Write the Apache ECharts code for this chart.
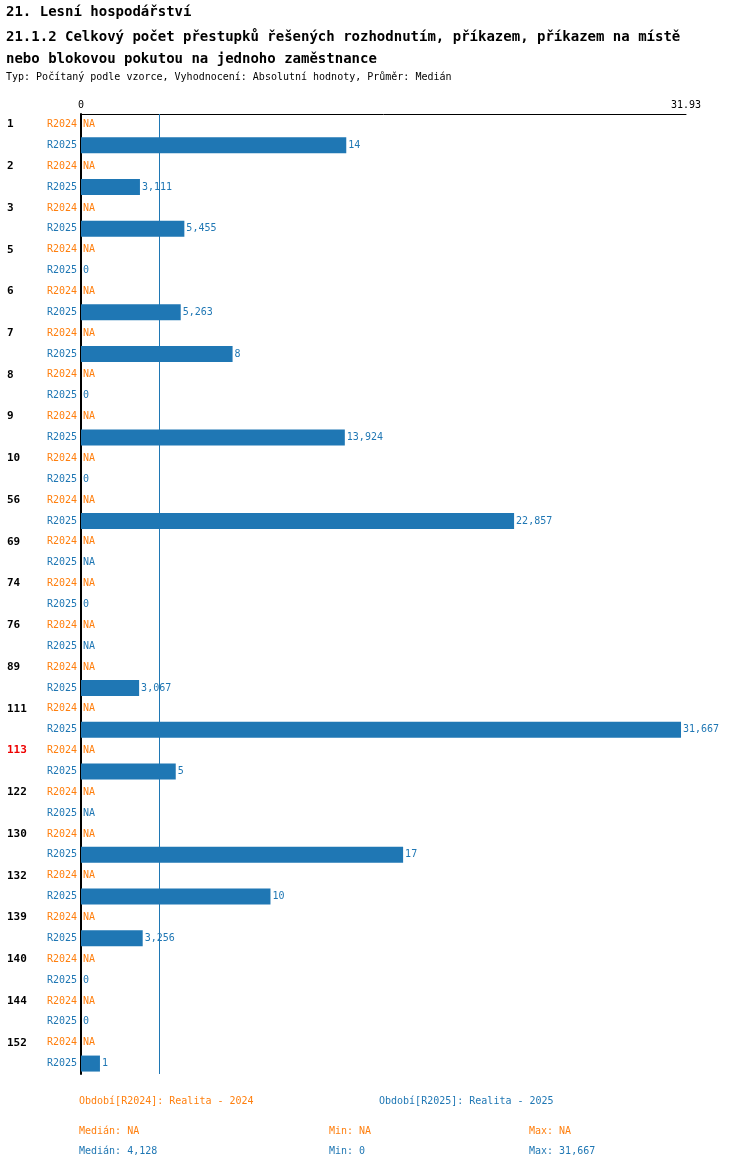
<!DOCTYPE html>
<html><head><meta charset="utf-8">
<script src="https://cdn.jsdelivr.net/npm/echarts@6/dist/echarts.min.js"></script>
<style>body{margin:0;background:#fff}#chart-container{width:750px;height:1170px}</style>
</head><body><div id="chart-container"></div>
<script>
var groups = ['1','2','3','5','6','7','8','9','10','56','69','74','76','89','111','113','122','130','132','139','140','144','152'];
var r2024 = groups.map(function () { return null; });
var r2025 = [14, 3.111, 5.455, 0, 5.263, 8, 0, 13.924, 0, 22.857, null, 0, null, 3.067, 31.667, 5, null, 17, 10, 3.256, 0, 0, 1];
var highlight = '113';
var median2025 = 4.128, min2025 = 0, max2025 = 31.667;

var ORANGE = '#ff7f0e', BLUE = '#1f77b4';
var FONT = 'DejaVu Sans Mono';

function fmt(v) {
  if (v === null) return 'NA';
  if (Number.isInteger(v)) return String(v);
  return v.toFixed(3).replace('.', ',');
}

var cats = [], data = [];
groups.forEach(function (g, i) {
  cats.push(g + '|R2024');
  cats.push('|R2025');
  data.push({ value: r2024[i] === null ? 0 : r2024[i], raw: r2024[i], label: { color: ORANGE } });
  data.push({ value: r2025[i] === null ? 0 : r2025[i], raw: r2025[i], label: { color: BLUE } });
});

var dom = document.getElementById('chart-container');
var myChart = echarts.init(dom, null, { renderer: 'canvas' });

var option = {
  animation: false,
  textStyle: { fontFamily: FONT },
  title: [
    { text: '21. Lesní hospodářství', left: 1, top: 0, textStyle: { fontFamily: FONT, fontSize: 14, fontWeight: 'bold', color: '#000' } },
    { text: '21.1.2 Celkový počet přestupků řešených rozhodnutím, příkazem, příkazem na místě\nnebo blokovou pokutou na jednoho zaměstnance', left: 1, top: 21,
      textStyle: { fontFamily: FONT, fontSize: 14, fontWeight: 'bold', color: '#000', lineHeight: 22 } },
    { text: 'Typ: Počítaný podle vzorce, Vyhodnocení: Absolutní hodnoty, Průměr: Medián', left: 1, top: 67,
      textStyle: { fontFamily: FONT, fontSize: 10, fontWeight: 'normal', color: '#000' } }
  ],
  grid: { left: 81, top: 114, width: 605, height: 960 },
  xAxis: {
    type: 'value', position: 'top', min: 0, max: 31.93, interval: 40,
    axisLine: { show: true, lineStyle: { color: '#000' } },
    axisTick: { show: false }, splitLine: { show: false },
    axisLabel: { fontFamily: FONT, fontSize: 10, color: '#000', margin: 4 }
  },
  yAxis: {
    type: 'category', inverse: true, data: cats,
    axisLine: { show: true, lineStyle: { color: '#000', width: 2 } },
    axisTick: { show: false },
    axisLabel: {
      align: 'left', margin: 74, interval: 0,
      formatter: function (v) {
        var p = v.split('|');
        var gs = p[0] === highlight ? 'h' : 'g';
        var rs = p[1] === 'R2024' ? 'o' : 'b';
        return '{' + gs + '|' + p[0] + '}{' + rs + '|' + p[1] + '}';
      },
      rich: {
        g: { width: 40, fontFamily: FONT, fontSize: 11, fontWeight: 'bold', color: '#000' },
        h: { width: 40, fontFamily: FONT, fontSize: 11, fontWeight: 'bold', color: '#e00' },
        o: { fontFamily: FONT, fontSize: 10, color: ORANGE },
        b: { fontFamily: FONT, fontSize: 10, color: BLUE }
      }
    }
  },
  series: [{
    type: 'bar', data: data, barWidth: 16, itemStyle: { color: BLUE },
    label: {
      show: true, position: 'right', distance: 2, fontFamily: FONT, fontSize: 10,
      formatter: function (p) { return fmt(p.data.raw); }
    },
    markLine: {
      silent: true, symbol: 'none', label: { show: false },
      lineStyle: { color: BLUE, width: 1, type: 'solid' },
      data: [{ xAxis: median2025 }]
    }
  }],
  graphic: [
    { type: 'text', left: 79, top: 1096, style: { text: 'Období[R2024]: Realita - 2024', fill: ORANGE, font: '10px ' + FONT } },
    { type: 'text', left: 379, top: 1096, style: { text: 'Období[R2025]: Realita - 2025', fill: BLUE, font: '10px ' + FONT } },
    { type: 'text', left: 79, top: 1126, style: { text: 'Medián: NA', fill: ORANGE, font: '10px ' + FONT } },
    { type: 'text', left: 329, top: 1126, style: { text: 'Min: NA', fill: ORANGE, font: '10px ' + FONT } },
    { type: 'text', left: 529, top: 1126, style: { text: 'Max: NA', fill: ORANGE, font: '10px ' + FONT } },
    { type: 'text', left: 79, top: 1146, style: { text: 'Medián: ' + fmt(median2025), fill: BLUE, font: '10px ' + FONT } },
    { type: 'text', left: 329, top: 1146, style: { text: 'Min: ' + fmt(min2025), fill: BLUE, font: '10px ' + FONT } },
    { type: 'text', left: 529, top: 1146, style: { text: 'Max: ' + fmt(max2025), fill: BLUE, font: '10px ' + FONT } }
  ]
};

myChart.setOption(option);
window.addEventListener('resize', myChart.resize);
</script></body></html>
